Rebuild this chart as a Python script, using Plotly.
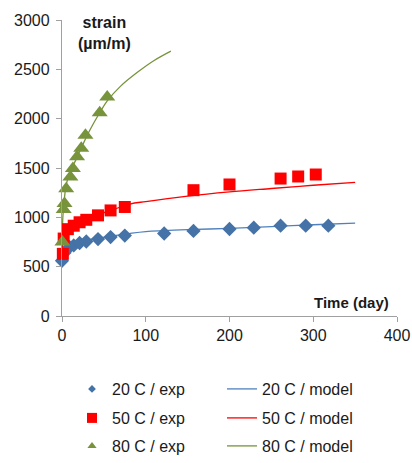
import plotly.graph_objects as go

# Measured strain (µm/m) versus time (day)
days_20_exp = [0, 3, 9, 14, 21, 29, 43, 58, 75, 122, 157, 200, 229, 261, 291, 318]
strain_20_exp = [560, 640, 700, 715, 740, 755, 780, 800, 815, 836, 862, 882, 895, 915, 915, 915]

days_50_exp = [1, 2, 7, 14, 21, 29, 43, 58, 75, 157, 200, 261, 282, 303]
strain_50_exp = [630, 785, 880, 915, 950, 975, 1020, 1070, 1105, 1275, 1333, 1393, 1414, 1434]

days_80_exp = [0.5, 2, 3, 5, 10, 13, 18, 23, 28, 45, 54]
strain_80_exp = [750, 1080, 1140, 1290, 1410, 1495, 1613, 1700, 1833, 2060, 2220]

# Model curves
days_20_model = [0, 1, 3, 7, 14, 25, 40, 60, 80, 100, 150, 200, 250, 300, 350]
strain_20_model = [560, 620, 665, 700, 730, 760, 785, 810, 835, 855, 875, 888, 905, 925, 942]

days_50_model = [0, 1, 3, 7, 14, 25, 40, 60, 81, 100, 150, 200, 250, 300, 350]
strain_50_model = [630, 740, 810, 870, 920, 970, 1020, 1075, 1135, 1160, 1215, 1258, 1292, 1325, 1355]

days_80_model = [0, 1, 2, 5, 10, 17, 25, 33, 45, 54, 70, 90, 110, 130]
strain_80_model = [740, 1000, 1110, 1330, 1470, 1590, 1740, 1880, 2060, 2180, 2330, 2470, 2590, 2685]

x_ticks = [0, 100, 200, 300, 400]
y_ticks = [0, 500, 1000, 1500, 2000, 2500, 3000]

BLUE_PT = "#4572A7"
BLUE_LN = "#4F81BD"
RED = "#FF0000"
GREEN = "#77933C"
AXIS = "#A0A0A0"
FONT = "Liberation Sans, Arial, sans-serif"

fig = go.Figure()

series = [
    ("20 C", days_20_exp, strain_20_exp, days_20_model, strain_20_model,
     BLUE_PT, BLUE_LN, "diamond", 11, 6),
    ("50 C", days_50_exp, strain_50_exp, days_50_model, strain_50_model,
     RED, RED, "square", 12, 10),
    ("80 C", days_80_exp, strain_80_exp, days_80_model, strain_80_model,
     GREEN, GREEN, "triangle-up", 14, 8),
]

# model lines first so markers sit on top
for name, dx, dy, mx, my, pc, lc, sym, sz, lsz in series:
    fig.add_trace(go.Scatter(x=mx, y=my, mode="lines", line=dict(color=lc, width=1.3, shape="spline"),
                             showlegend=False, hoverinfo="skip"))
for name, dx, dy, mx, my, pc, lc, sym, sz, lsz in series:
    fig.add_trace(go.Scatter(x=dx, y=dy, mode="markers", cliponaxis=False,
                             marker=dict(symbol=sym, size=sz, color=pc, line=dict(width=0)),
                             showlegend=False))

# legend entries: one legend per slot, laid out in a 2 x 3 grid
row_y = [389, 418, 446]
col_x = [72, 222]
H = 463
idx = 0
legend_layouts = {}
for r, (name, dx, dy, mx, my, pc, lc, sym, sz, lsz) in enumerate(series):
    for c in range(2):
        idx += 1
        key = "legend" if idx == 1 else f"legend{idx}"
        if c == 0:
            fig.add_trace(go.Scatter(x=[None], y=[None], mode="markers", name=f"{name} / exp",
                                     marker=dict(symbol=sym, size=lsz, color=pc, line=dict(width=0)),
                                     legend=key))
        else:
            fig.add_trace(go.Scatter(x=[None], y=[None], mode="lines", name=f"{name} / model",
                                     line=dict(color=lc, width=1.3), legend=key))
        legend_layouts[key] = dict(
            x=col_x[c] / 412, xref="container", xanchor="left",
            y=1 - row_y[r] / H, yref="container", yanchor="middle",
            bgcolor="rgba(0,0,0,0)", borderwidth=0,
            font=dict(family=FONT, size=16, color="#1a1a1a"),
        )

axis_common = dict(
    showgrid=False, zeroline=False, showline=True, linecolor=AXIS, linewidth=1.3,
    ticks="outside", ticklen=5, tickcolor=AXIS, tickwidth=1.3,
    tickfont=dict(family=FONT, size=16, color="#1a1a1a"),
)

fig.update_layout(
    width=412, height=463,
    margin=dict(l=62, r=15, t=20, b=147, pad=0, autoexpand=False),
    paper_bgcolor="white", plot_bgcolor="white",
    xaxis=dict(range=[0, 400], tickvals=x_ticks, **axis_common),
    yaxis=dict(range=[0, 3000], tickvals=y_ticks, ticklabelstandoff=3, **axis_common),
    annotations=[
        dict(text="<b>strain</b><br><b>(µm/m)</b>", x=50.5, y=1.027, xref="x", yref="paper",
             xanchor="center", yanchor="top", showarrow=False, align="center",
             font=dict(family=FONT, size=16, color="#1a1a1a")),
        dict(text="<b>Time (day)</b>", x=393, y=132, xref="x", yref="y",
             xanchor="right", yanchor="middle", showarrow=False,
             font=dict(family=FONT, size=15, color="#1a1a1a")),
    ],
    **legend_layouts,
)

fig.write_html("out.html")
